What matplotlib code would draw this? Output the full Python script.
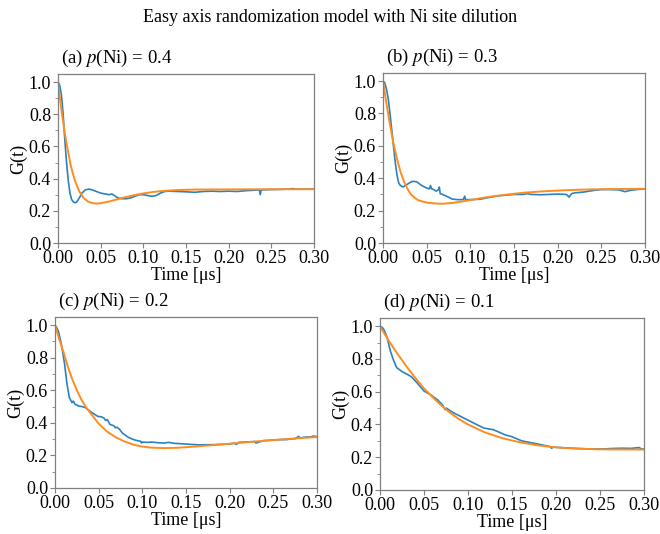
import matplotlib
matplotlib.use("Agg")
import matplotlib.pyplot as plt
from matplotlib.ticker import MultipleLocator

plt.rcParams['font.family'] = ['Liberation Serif', 'DejaVu Serif']
plt.rcParams['mathtext.fontset'] = 'stix'

# ---------------- data ----------------
# (a) p(Ni) = 0.4
t_a_exp = [0, 0.002, 0.004, 0.006, 0.008, 0.010, 0.012, 0.014, 0.016, 0.018, 0.020, 0.022,
           0.025, 0.028, 0.032, 0.036, 0.040, 0.045, 0.050, 0.055, 0.060, 0.063, 0.066,
           0.070, 0.075, 0.080, 0.085, 0.090, 0.095, 0.100, 0.105, 0.110, 0.115, 0.120,
           0.125, 0.130, 0.140, 0.150, 0.160, 0.170, 0.180, 0.190, 0.200, 0.210, 0.220,
           0.230, 0.236, 0.237, 0.238, 0.240, 0.250, 0.260, 0.270, 0.275, 0.280, 0.290, 0.300]
g_a_exp = [1.00, 0.98, 0.92, 0.80, 0.64, 0.50, 0.39, 0.31, 0.27, 0.255, 0.25, 0.255,
           0.28, 0.31, 0.33, 0.335, 0.33, 0.32, 0.31, 0.305, 0.30, 0.305, 0.295,
           0.28, 0.275, 0.275, 0.28, 0.29, 0.30, 0.30, 0.295, 0.29, 0.295, 0.31,
           0.32, 0.322, 0.32, 0.318, 0.315, 0.32, 0.322, 0.32, 0.322, 0.32, 0.325,
           0.328, 0.33, 0.30, 0.33, 0.33, 0.332, 0.333, 0.335, 0.338, 0.334, 0.335, 0.335]
t_a_fit = [0, 0.0025, 0.005, 0.0075, 0.010, 0.0125, 0.015, 0.0175, 0.020, 0.025, 0.030,
           0.035, 0.040, 0.045, 0.050, 0.060, 0.070, 0.080, 0.090, 0.100, 0.110, 0.120,
           0.130, 0.140, 0.160, 0.200, 0.250, 0.300]
g_a_fit = [1.00, 0.89, 0.79, 0.70, 0.62, 0.55, 0.48, 0.43, 0.385, 0.32, 0.28,
           0.258, 0.248, 0.245, 0.247, 0.258, 0.272, 0.286, 0.298, 0.308, 0.316, 0.322,
           0.326, 0.329, 0.332, 0.333, 0.334, 0.334]

# (b) p(Ni) = 0.3
t_b_exp = [0, 0.002, 0.004, 0.006, 0.008, 0.010, 0.012, 0.014, 0.016, 0.018, 0.020, 0.023,
           0.027, 0.030, 0.033, 0.036, 0.039, 0.043, 0.046, 0.050, 0.053, 0.0545, 0.0555,
           0.058, 0.061, 0.0635, 0.0645, 0.0655, 0.068, 0.071, 0.075, 0.079, 0.085, 0.092,
           0.0935, 0.0945, 0.096, 0.100, 0.111, 0.120, 0.130, 0.140, 0.150, 0.160, 0.165,
           0.170, 0.180, 0.190, 0.200, 0.210, 0.212, 0.213, 0.216, 0.220, 0.230, 0.243,
           0.250, 0.260, 0.270, 0.277, 0.283, 0.290, 0.300]
g_b_exp = [1.00, 0.99, 0.95, 0.89, 0.80, 0.70, 0.60, 0.50, 0.42, 0.37, 0.355, 0.346,
           0.36, 0.37, 0.38, 0.38, 0.377, 0.36, 0.35, 0.34, 0.334, 0.355, 0.335,
           0.33, 0.32, 0.33, 0.345, 0.305, 0.30, 0.293, 0.283, 0.272, 0.268, 0.268,
           0.29, 0.268, 0.268, 0.268, 0.27, 0.28, 0.29, 0.295, 0.30, 0.30, 0.305,
           0.30, 0.298, 0.30, 0.302, 0.300, 0.290, 0.283, 0.305, 0.31, 0.315, 0.326,
           0.33, 0.33, 0.328, 0.317, 0.325, 0.33, 0.334]
t_b_fit = [0, 0.004, 0.008, 0.012, 0.016, 0.020, 0.024, 0.028, 0.032, 0.036, 0.040,
           0.046, 0.052, 0.058, 0.064, 0.070, 0.080, 0.090, 0.100, 0.110, 0.120, 0.140,
           0.160, 0.180, 0.200, 0.230, 0.260, 0.300]
g_b_fit = [1.00, 0.86, 0.73, 0.615, 0.52, 0.44, 0.38, 0.335, 0.30, 0.28, 0.265,
           0.255, 0.248, 0.245, 0.243, 0.243, 0.248, 0.256, 0.265, 0.275, 0.284, 0.298,
           0.31, 0.318, 0.324, 0.33, 0.333, 0.335]

# (c) p(Ni) = 0.2
t_c_exp = [0, 0.002, 0.004, 0.006, 0.008, 0.011, 0.0137, 0.0164, 0.0195, 0.021, 0.023,
           0.025, 0.027, 0.031, 0.035, 0.040, 0.043, 0.046, 0.049, 0.053, 0.056, 0.058,
           0.060, 0.063, 0.066, 0.068, 0.069, 0.071, 0.074, 0.077, 0.084, 0.090, 0.095,
           0.098, 0.099, 0.100, 0.105, 0.111, 0.118, 0.125, 0.130, 0.137, 0.144, 0.155,
           0.165, 0.181, 0.190, 0.200, 0.205, 0.208, 0.210, 0.220, 0.229, 0.230, 0.239,
           0.248, 0.258, 0.265, 0.270, 0.275, 0.279, 0.281, 0.283, 0.288, 0.293, 0.296,
           0.300]
g_c_exp = [1.00, 0.985, 0.96, 0.915, 0.86, 0.76, 0.64, 0.555, 0.524, 0.534, 0.513,
           0.51, 0.503, 0.50, 0.493, 0.472, 0.46, 0.45, 0.44, 0.437, 0.43, 0.415,
           0.42, 0.39, 0.385, 0.38, 0.37, 0.373, 0.36, 0.338, 0.311, 0.297, 0.29,
           0.287, 0.276, 0.282, 0.28, 0.282, 0.278, 0.276, 0.28, 0.274, 0.272, 0.268,
           0.265, 0.266, 0.268, 0.27, 0.275, 0.268, 0.28, 0.283, 0.285, 0.276, 0.291,
           0.293, 0.297, 0.297, 0.301, 0.303, 0.317, 0.305, 0.31, 0.313, 0.314, 0.319,
           0.316]
t_c_fit = [0, 0.005, 0.010, 0.015, 0.020, 0.025, 0.030, 0.036, 0.045, 0.050, 0.060,
           0.070, 0.080, 0.090, 0.100, 0.110, 0.125, 0.140, 0.160, 0.180, 0.200, 0.220,
           0.250, 0.280, 0.300]
g_c_fit = [1.00, 0.91, 0.83, 0.74, 0.665, 0.60, 0.545, 0.492, 0.43, 0.395, 0.345,
           0.31, 0.285, 0.266, 0.254, 0.248, 0.245, 0.247, 0.254, 0.263, 0.272, 0.281,
           0.295, 0.306, 0.313]

# (d) p(Ni) = 0.1
t_d_exp = [0, 0.002, 0.004, 0.006, 0.008, 0.0117, 0.0155, 0.019, 0.025, 0.031, 0.036,
           0.042, 0.050, 0.057, 0.065, 0.070, 0.072, 0.074, 0.0755, 0.078, 0.084, 0.095,
           0.106, 0.118, 0.129, 0.142, 0.150, 0.161, 0.180, 0.193, 0.195, 0.197, 0.218,
           0.240, 0.256, 0.262, 0.275, 0.285, 0.295, 0.296, 0.300]
g_d_exp = [1.00, 0.995, 0.984, 0.96, 0.932, 0.85, 0.79, 0.747, 0.723, 0.706, 0.69,
           0.655, 0.604, 0.583, 0.552, 0.526, 0.511, 0.49, 0.50, 0.49, 0.47, 0.44,
           0.41, 0.378, 0.368, 0.337, 0.325, 0.30, 0.28, 0.265, 0.255, 0.262, 0.255,
           0.25, 0.251, 0.253, 0.255, 0.254, 0.259, 0.252, 0.25]
t_d_fit = [0, 0.010, 0.020, 0.030, 0.040, 0.050, 0.060, 0.070, 0.080, 0.090, 0.100,
           0.120, 0.140, 0.160, 0.180, 0.200, 0.220, 0.250, 0.300]
g_d_fit = [1.00, 0.91, 0.83, 0.755, 0.685, 0.62, 0.565, 0.515, 0.47, 0.432, 0.40,
           0.35, 0.315, 0.29, 0.272, 0.26, 0.253, 0.248, 0.247]

titles = ["(a) $p$(Ni) = 0.4", "(b) $p$(Ni) = 0.3", "(c) $p$(Ni) = 0.2", "(d) $p$(Ni) = 0.1"]
suptitle = "Easy axis randomization model with Ni site dilution"
xticks = [0.00, 0.05, 0.10, 0.15, 0.20, 0.25, 0.30]
yticks = [0.0, 0.2, 0.4, 0.6, 0.8, 1.0]

panels = [(t_a_exp, g_a_exp, t_a_fit, g_a_fit),
          (t_b_exp, g_b_exp, t_b_fit, g_b_fit),
          (t_c_exp, g_c_exp, t_c_fit, g_c_fit),
          (t_d_exp, g_d_exp, t_d_fit, g_d_fit)]

# ---------------- figure ----------------
W, H = 660, 534
fig = plt.figure(figsize=(W / 100, H / 100), dpi=100)

boxes = [(58, 74, 314, 243), (383, 73, 645, 243), (55, 317, 317, 488), (380, 318, 644, 490)]

for (l, t, r, b), (te, ge, tf, gf), title in zip(boxes, panels, titles):
    ax = fig.add_axes([l / W, (H - b) / H, (r - l) / W, (b - t) / H])
    ax.plot(te, ge, color='#2a82c0', lw=1.2)
    ax.plot(tf, gf, color='#ff8c1f', lw=1.4)
    ax.set_xlim(0, 0.3)
    ax.set_ylim(0, 1.05)
    ax.set_xticks(xticks)
    ax.set_xticklabels([f"{v:.2f}" for v in xticks])
    ax.set_yticks(yticks)
    ax.set_yticklabels([f"{v:.1f}" for v in yticks])
    ax.yaxis.set_minor_locator(MultipleLocator(0.1))
    ax.tick_params(axis='both', which='major', labelsize=13, length=3.5,
                   width=0.8, color='#808080', pad=1.5)
    ax.tick_params(axis='y', which='minor', length=2, width=0.6, color='#808080')
    for s in ax.spines.values():
        s.set_color('#808080')
        s.set_linewidth(0.9)
    ax.set_xlabel("Time [μs]", fontsize=13, labelpad=0)
    ax.set_ylabel("G(t)", fontsize=13, labelpad=1)
    ax.set_title(title, loc='left', fontsize=13.5, pad=8, x=0.01)

fig.text(0.5, 1 - 18 / H, suptitle, ha='center', va='center', fontsize=13)

fig.savefig("out.png", dpi=100)
